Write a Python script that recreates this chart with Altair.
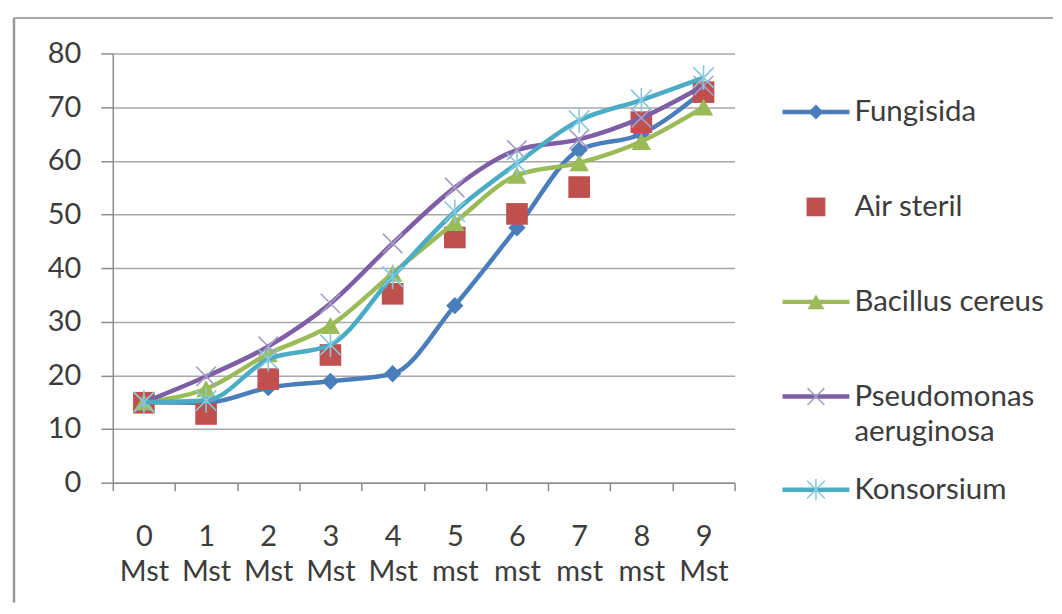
import altair as alt
import pandas as pd

categories = ["0 Mst", "1 Mst", "2 Mst", "3 Mst", "4 Mst", "5 mst", "6 mst", "7 mst", "8 mst", "9 Mst"]
series_names = ["Fungisida", "Air steril", "Bacillus cereus", "Pseudomonas aeruginosa", "Konsorsium"]

fungisida = [15, 14.9, 17.7, 18.9, 20.3, 33, 47.5, 62, 65, 73]
air_steril = [14.9, 12.8, 19.3, 23.8, 35.2, 45.7, 50.1, 55.1, 67.2, 72.8]
bacillus = [15, 17.5, 24, 29.3, 39, 48.5, 57.3, 59.6, 63.6, 70]
pseudomonas = [15, 19.8, 25.4, 33.4, 44.6, 55, 62, 64, 68, 74]
konsorsium = [15, 15.3, 23, 25.7, 38.4, 50.5, 59.5, 67.5, 71.3, 75.5]

legend_line1 = ["Fungisida", "Air steril", "Bacillus cereus", "Pseudomonas", "Konsorsium"]
legend_line2 = ["", "", "", "aeruginosa", ""]
legend_pos = [69.1, 51.4, 33.7, 16.05, -1.3]   # legend rows placed on the value scale

y_ticks = [0, 10, 20, 30, 40, 50, 60, 70, 80]

line_colors = ["#4a7ebb", None, "#9bbb59", "#7e5fa6", "#4bacc6"]
marker_fill = ["#4a7ebb", "#c0504d", "#9bbb59", None, None]
marker_stroke = [None, None, None, "#a79dc6", "#86c9de"]
marker_shape = ["diamond", "square", "triangle-up",
                "M-1,-1L1,1M-1,1L1,-1",
                "M-1,-1L1,1M-1,1L1,-1M0,-1.2L0,1.2"]
marker_size = [300, 470, 380, 380, 420]

values = [fungisida, air_steril, bacillus, pseudomonas, konsorsium]
rows = []
for name, vals in zip(series_names, values):
    for c, v in zip(categories, vals):
        rows.append({"series": name, "time": c, "value": v})
df = pd.DataFrame(rows)

leg = pd.DataFrame({"series": series_names, "l1": legend_line1, "l2": legend_line2, "ly": legend_pos})
leg["ly2"] = leg["ly"] - 6.7

FONT = "Lato"
TXT = "#3c3c3c"
AX = "#8c8c8c"
FS = 29

x_enc = alt.X("time:N", sort=categories, bandPosition=0.5,
              scale=alt.Scale(type="band", domain=categories, paddingInner=0, paddingOuter=0),
              axis=alt.Axis(title=None, tickBand="extent", tickSize=8, labelPadding=32,
                            labelExpr="split(datum.label, ' ')", labelAngle=0,
                            labelLineHeight=35, labelBaseline="top",
                            labelFont=FONT, labelFontSize=FS, labelColor=TXT,
                            domainColor=AX, tickColor=AX, domainWidth=1.5, tickWidth=1.5,
                            grid=False))
y_scale = alt.Scale(domain=[0, 80], nice=False, zero=False)
y_axis = alt.Axis(title=None, values=y_ticks, tickSize=12, labelPadding=20,
                  labelFont=FONT, labelFontSize=FS, labelColor=TXT,
                  domainColor=AX, tickColor=AX, domainWidth=1.5, tickWidth=1.5,
                  grid=True, gridColor="#a8a8a8", gridWidth=1.5)
y_enc = alt.Y("value:Q", scale=y_scale, axis=y_axis)

layers = []
# frame (top and left edges)
frame = alt.Data(values=[{"f": 1}])
layers.append(alt.Chart(frame).mark_rule(color="#9a9a9a", strokeWidth=2.5, clip=False).encode(
    x=alt.value(-99), y=alt.value(-35.5), y2=alt.value(550)))
layers.append(alt.Chart(frame).mark_rule(color="#a8a8a8", strokeWidth=2, clip=False).encode(
    x=alt.value(-99), x2=alt.value(942), y=alt.value(-35.5)))

for i, name in enumerate(series_names):
    base = alt.Chart(df).transform_filter(alt.datum.series == name)
    if line_colors[i]:
        layers.append(base.mark_line(color=line_colors[i], strokeWidth=4.5,
                                     interpolate="monotone").encode(x=x_enc, y=y_enc))
    if marker_fill[i]:
        pt = base.mark_point(shape=marker_shape[i], filled=True, fill=marker_fill[i],
                             opacity=1, size=marker_size[i], strokeWidth=0)
    else:
        pt = base.mark_point(shape=marker_shape[i], filled=False, stroke=marker_stroke[i],
                             opacity=1, size=marker_size[i], strokeWidth=1.6)
    layers.append(pt.encode(x=x_enc, y=y_enc))

# legend
ly = alt.Y("ly:Q", scale=y_scale, axis=y_axis)
for i, name in enumerate(series_names):
    lb = alt.Chart(leg).transform_filter(alt.datum.series == name)
    if line_colors[i]:
        layers.append(lb.mark_rule(color=line_colors[i], strokeWidth=4.5, clip=False).encode(
            x=alt.value(671), x2=alt.value(738), y=ly))
    if marker_fill[i]:
        pt = lb.mark_point(shape=marker_shape[i], filled=True, fill=marker_fill[i], opacity=1,
                           size=marker_size[i] * 0.75, strokeWidth=0, clip=False)
    else:
        pt = lb.mark_point(shape=marker_shape[i], filled=False, stroke=marker_stroke[i], opacity=1,
                           size=marker_size[i] * 0.75, strokeWidth=1.6, clip=False)
    layers.append(pt.encode(x=alt.value(704.5), y=ly))

layers.append(alt.Chart(leg).mark_text(align="left", baseline="middle", font=FONT, fontSize=FS + 0.5,
                                       color=TXT, clip=False).encode(
    x=alt.value(743), y=ly, text="l1:N"))
layers.append(alt.Chart(leg).transform_filter(alt.datum.l2 != "").mark_text(
    align="left", baseline="middle", font=FONT, fontSize=FS + 0.5, color=TXT, clip=False).encode(
    x=alt.value(743), y=alt.Y("ly2:Q", scale=y_scale, axis=y_axis), text="l2:N"))

chart = alt.layer(*layers).properties(
    width=623, height=430,
    padding={"left": 4, "top": 8, "right": 0, "bottom": 0},
).configure(font=FONT, background="white", view=alt.ViewConfig(stroke=None))

chart.save("out.html", embed_options={"renderer": "svg", "actions": False})
